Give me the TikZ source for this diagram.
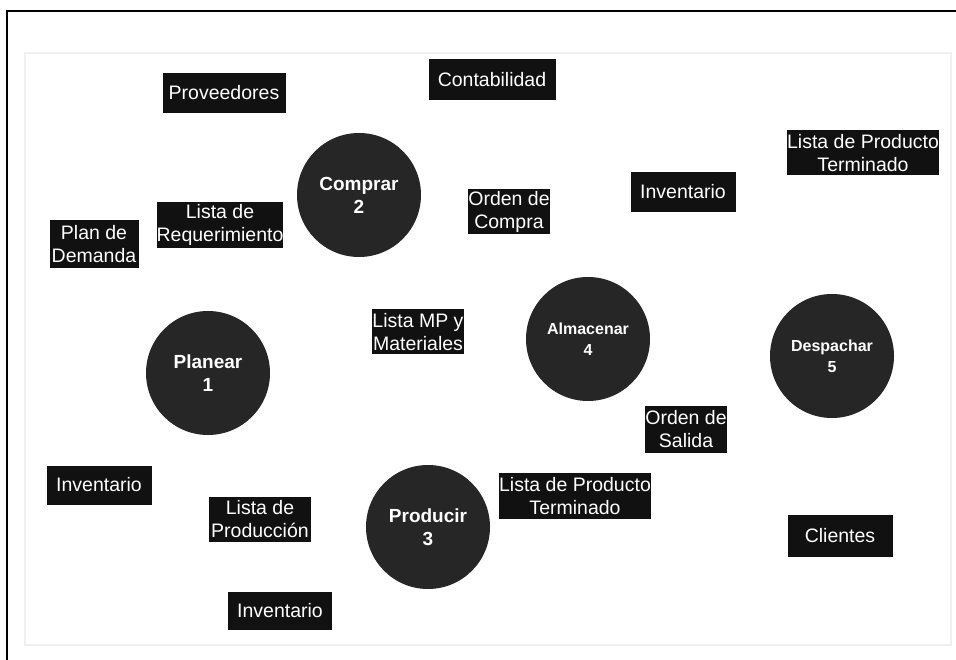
\documentclass[tikz,border=0pt]{standalone}
\usepackage{fontspec}
\setmainfont{Liberation Sans}
\definecolor{circfill}{HTML}{262626}
\definecolor{boxfill}{HTML}{111111}
\tikzset{
	proc/.style={circle,fill=circfill,text=white,minimum size=124pt,inner sep=0pt,
		align=center,font=\fontsize{19}{23}\selectfont\bfseries},
	procsmall/.style={proc,font=\fontsize{16}{21}\selectfont\bfseries},
	ent/.style={rectangle,fill=boxfill,text=white,inner sep=0pt,align=center,
		font=\fontsize{19.5}{23}\selectfont},
}
\begin{document}
\begin{tikzpicture}[x=1pt,y=-1pt]
	\useasboundingbox (0,0) rectangle (956,660);
	\fill[white] (0,0) rectangle (956,660);

	% Marco
	\draw[line width=2pt] (7,660) -- (7,11) -- (956,11);
	\draw[gray!12,line width=1.5pt,fill=white] (25,53) rectangle (951,645);

	% Procesos
	\node[proc] (planear) at (208,373) {Planear\\1};
	\node[proc] (comprar) at (359,195) {Comprar\\2};
	\node[proc] (producir) at (428,527) {Producir\\3};
	\node[procsmall] (almacenar) at (588,339) {Almacenar\\4};
	\node[procsmall] (despachar) at (832,356) {Despachar\\5};

	% Entidades y listas
	\node[ent,minimum width=123pt,minimum height=40pt] (prov) at (224,93) {Proveedores};
	\node[ent,minimum width=127pt,minimum height=41pt] (conta) at (492,80) {Contabilidad};
	\node[ent,minimum width=126pt,minimum height=46pt] (listareq) at (220,225) {Lista de\\Requerimiento};
	\node[ent,minimum width=89pt,minimum height=48pt] (plandem) at (94,244) {Plan de\\Demanda};
	\node[ent,minimum width=82pt,minimum height=45pt] (ordcompra) at (509,212) {Orden de\\Compra};
	\node[ent,minimum width=105pt,minimum height=40pt] (invtop) at (683,192) {Inventario};
	\node[ent,minimum width=151pt,minimum height=45pt] (listapt1) at (863,153) {Lista de Producto\\Terminado};
	\node[ent,minimum width=90pt,minimum height=45pt] (listamp) at (418,332) {Lista MP y\\Materiales};
	\node[ent,minimum width=105pt,minimum height=39pt] (invleft) at (99,485) {Inventario};
	\node[ent,minimum width=102pt,minimum height=45pt] (listaprod) at (260,519) {Lista de\\Producción};
	\node[ent,minimum width=104pt,minimum height=38pt] (invbot) at (280,611) {Inventario};
	\node[ent,minimum width=80pt,minimum height=47pt] (ordsalida) at (686,429) {Orden de\\Salida};
	\node[ent,minimum width=151pt,minimum height=46pt] (listapt2) at (575,496) {Lista de Producto\\Terminado};
	\node[ent,minimum width=105pt,minimum height=42pt] (clientes) at (840,536) {Clientes};
\end{tikzpicture}
\end{document}
